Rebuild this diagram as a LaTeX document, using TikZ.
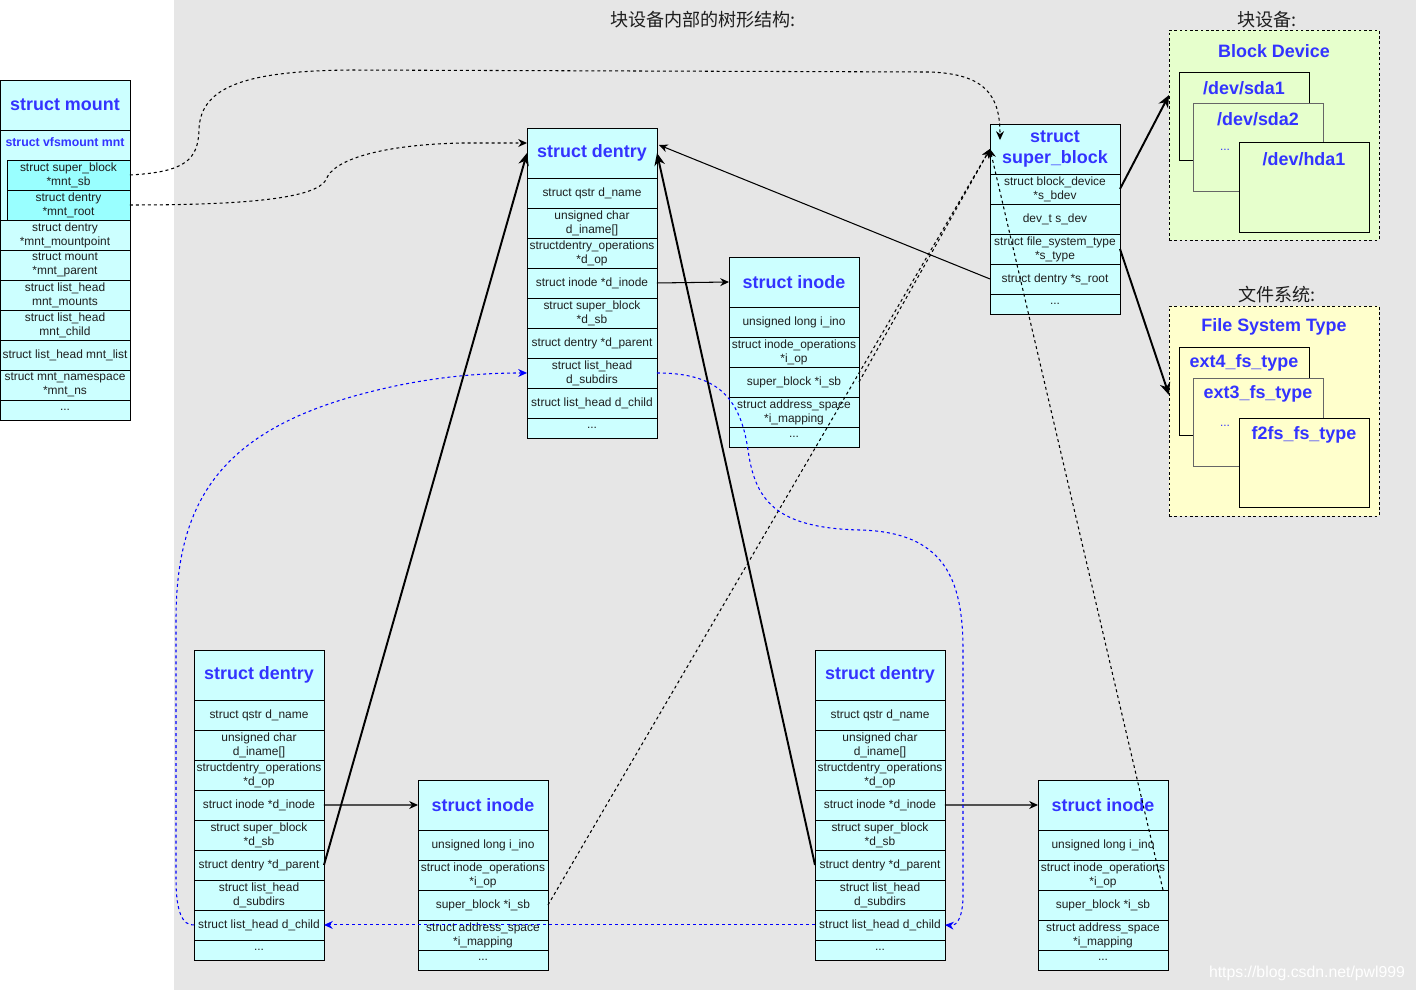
\documentclass[tikz,border=0pt]{standalone}
\usepackage{fontspec}
\setmainfont{Liberation Sans}
\newfontfamily\cjk{Noto Sans CJK SC}
\usetikzlibrary{positioning,calc,arrows.meta}
\definecolor{cellcyan}{RGB}{204,255,255}
\definecolor{cellaqua}{RGB}{153,255,255}
\definecolor{titleblue}{RGB}{51,51,255}
\definecolor{bggray}{RGB}{230,230,230}
\definecolor{blkgreen}{RGB}{230,255,204}
\definecolor{fsyellow}{RGB}{255,255,204}
\definecolor{textdark}{RGB}{30,30,30}
\definecolor{edgegray}{RGB}{102,102,102}

\tikzset{
  hdr/.style={draw, fill=cellcyan, outer sep=0pt, inner sep=1pt, minimum width=2.6cm, minimum height=1cm, align=center, text=titleblue, font=\fontsize{10.2}{12.5}\selectfont\bfseries},
  fld/.style={draw, fill=cellcyan, outer sep=0pt, inner sep=0pt, minimum width=2.6cm, minimum height=0.6cm, align=center, text=textdark, font=\fontsize{6.8}{8}\selectfont},
  fldend/.style={fld, minimum height=0.4cm},
  ptr/.style={-{Stealth[length=5pt,width=4.5pt]}, line width=0.6pt},
  ptrthick/.style={-{Stealth[length=7pt,width=6pt]}, line width=1.1pt},
  ptrdash/.style={ptr, dash pattern=on 1.7pt off 1.7pt},
  lnk/.style={ptrdash, blue},
  devbox/.style={draw, outer sep=0pt, anchor=north west, minimum width=2.6cm, minimum height=1.76cm},
  devlbl/.style={text=titleblue, font=\fontsize{10.2}{12}\selectfont\bfseries},
  grpbox/.style={draw, dash pattern=on 1.5pt off 1.5pt, outer sep=0pt, anchor=north west, minimum width=4.2cm, minimum height=4.2cm},
  cjktitle/.style={font=\cjk\fontsize{10.3}{12}\selectfont, text=textdark}
}

% one struct dentry, #1 name, #2 top left corner
\newcommand{\dentrybox}[2]{%
  \node[hdr, anchor=north west] (#1-hd) at #2 {struct dentry};
  \node[fld, below=0pt of #1-hd] (#1-name) {struct qstr d\_name};
  \node[fld, below=0pt of #1-name] (#1-iname) {unsigned char\\{}d\_iname[]};
  \node[fld, below=0pt of #1-iname] (#1-op) {structdentry\_operations\\{}*d\_op};
  \node[fld, below=0pt of #1-op] (#1-ino) {struct inode *d\_inode};
  \node[fld, below=0pt of #1-ino] (#1-sb) {struct super\_block\\{}*d\_sb};
  \node[fld, below=0pt of #1-sb] (#1-par) {struct dentry *d\_parent};
  \node[fld, below=0pt of #1-par] (#1-sub) {struct list\_head\\{}d\_subdirs};
  \node[fld, below=0pt of #1-sub] (#1-chd) {struct list\_head d\_child};
  \node[fldend, below=0pt of #1-chd] (#1-end) {...};
}

% one struct inode
\newcommand{\inodebox}[2]{%
  \node[hdr, anchor=north west] (#1-hd) at #2 {struct inode};
  \node[fld, below=0pt of #1-hd] (#1-num) {unsigned long i\_ino};
  \node[fld, below=0pt of #1-num] (#1-op) {struct inode\_operations\\{}*i\_op};
  \node[fld, below=0pt of #1-op] (#1-isb) {super\_block *i\_sb};
  \node[fld, below=0pt of #1-isb] (#1-map) {struct address\_space\\{}*i\_mapping};
  \node[fldend, below=0pt of #1-map] (#1-end) {...};
}

\begin{document}
\begin{tikzpicture}[x=0.02cm, y=-0.02cm]
  \useasboundingbox (0,0) rectangle (1416,992);

  % Background
  \fill[bggray] (174,0) rectangle (1416,990);
  \node[cjktitle] (tree-t) at (703,20) {块设备内部的树形结构:};

  % struct mount
  \node[hdr, anchor=north west] (mnt-hd) at (0,80) {struct mount};
  \node[fld, minimum height=1.8cm, below=0pt of mnt-hd] (mnt-vfs) {};
  \node[below=3pt of mnt-vfs.north, inner sep=1pt, text=titleblue, font=\fontsize{7}{8}\selectfont\bfseries] (mnt-vfs-t) {struct vfsmount mnt};
  \node[fld, fill=cellaqua, minimum width=2.46cm, anchor=north east] (mnt-sb) at ($(mnt-vfs.north east)+(0,30)$) {struct super\_block\\{}*mnt\_sb};
  \node[fld, fill=cellaqua, minimum width=2.46cm, below=0pt of mnt-sb] (mnt-root) {struct dentry\\{}*mnt\_root};
  \node[fld, below=0pt of mnt-vfs] (mnt-mp) {struct dentry\\{}*mnt\_mountpoint};
  \node[fld, below=0pt of mnt-mp] (mnt-par) {struct mount\\{}*mnt\_parent};
  \node[fld, below=0pt of mnt-par] (mnt-mts) {struct list\_head\\{}mnt\_mounts};
  \node[fld, below=0pt of mnt-mts] (mnt-chd) {struct list\_head\\{}mnt\_child};
  \node[fld, below=0pt of mnt-chd] (mnt-lst) {struct list\_head mnt\_list};
  \node[fld, below=0pt of mnt-lst] (mnt-ns) {struct mnt\_namespace\\{}*mnt\_ns};
  \node[fldend, below=0pt of mnt-ns] (mnt-end) {...};

  % dentries and inodes
  \dentrybox{td}{(527,128)}
  \dentrybox{bl}{(194,650)}
  \dentrybox{br}{(815,650)}
  \inodebox{ti}{(729,257)}
  \inodebox{bi}{(418,780)}
  \inodebox{ri}{(1038,780)}

  % struct super_block
  \node[hdr, anchor=north west] (sb-hd) at (990,124) {struct\\super\_block};
  \node[fld, below=0pt of sb-hd] (sb-bdev) {struct block\_device\\{}*s\_bdev};
  \node[fld, below=0pt of sb-bdev] (sb-dev) {dev\_t s\_dev};
  \node[fld, below=0pt of sb-dev] (sb-type) {struct file\_system\_type\\{}*s\_type};
  \node[fld, below=0pt of sb-type] (sb-root) {struct dentry *s\_root};
  \node[fldend, below=0pt of sb-root] (sb-end) {...};

  % Block device
  \node[cjktitle] (blk-cap) at (1267,20) {块设备:};
  \node[grpbox, fill=blkgreen] (blk) at (1169,30) {};
  \node[devlbl] (blk-t) at ($(blk.north)+(0,21)$) {Block Device};
  \node[devbox, fill=blkgreen] (sda1) at (1179,72) {};
  \node[devlbl] (sda1-t) at ($(sda1.north)+(0,16)$) {/dev/sda1};
  \node[devbox, fill=blkgreen, draw=edgegray] (sda2) at (1193,103) {};
  \node[devlbl] (sda2-t) at ($(sda2.north)+(0,16)$) {/dev/sda2};
  \node[text=titleblue, font=\fontsize{6.8}{8}\selectfont] (blk-dots) at (1225,150) {...};
  \node[devbox, fill=blkgreen, minimum height=1.8cm] (hda1) at (1239,142) {};
  \node[devlbl] (hda1-t) at ($(hda1.north)+(0,17)$) {/dev/hda1};

  % File system type
  \node[cjktitle] (fst-cap) at (1277,295) {文件系统:};
  \node[grpbox, fill=fsyellow] (fst) at (1169,306) {};
  \node[devlbl] (fst-t) at ($(fst.north)+(0,21)$) {File System Type};
  \node[devbox, fill=fsyellow] (ext4) at (1179,347) {};
  \node[devlbl] (ext4-t) at ($(ext4.north)+(0,16)$) {ext4\_fs\_type};
  \node[devbox, fill=fsyellow, draw=edgegray] (ext3) at (1193,378) {};
  \node[devlbl] (ext3-t) at ($(ext3.north)+(0,16)$) {ext3\_fs\_type};
  \node[text=titleblue, font=\fontsize{6.8}{8}\selectfont] (fst-dots) at (1225,426) {...};
  \node[devbox, fill=fsyellow, minimum height=1.78cm] (f2fs) at (1239,418) {};
  \node[devlbl] (f2fs-t) at ($(f2fs.north)+(0,17)$) {f2fs\_fs\_type};

  % mount pointers
  \coordinate (sb-in) at ($(sb-hd.north west)+(10,16)$);
  \draw[ptrdash] (mnt-sb.east) .. controls (185,172) and (198,160) .. (199,130) .. controls (200,85) and (250,71) .. (350,70) -- (930,72) .. controls (985,74) and (1000,95) .. (sb-in);
  \draw[ptrdash] (mnt-root.east) .. controls (250,205) and (315,198) .. (326,180) .. controls (332,160) and (380,145) .. (460,143) -- ($(td-hd.west)+(0,-10)$);

  % parent and inode pointers
  \draw[ptrthick] (bl-par.east) -- (td-hd.west);
  \draw[ptrthick] (br-par.west) -- (td-hd.east);
  \draw[ptr] (td-ino.east) -- (ti-hd.west);
  \draw[ptr] (bl-ino.east) -- (bi-hd.west);
  \draw[ptr] (br-ino.east) -- (ri-hd.west);
  \draw[ptr] (sb-root.west) -- ($(td-hd.east)+(2,-8)$);
  \draw[ptrthick] (sb-bdev.east) -- ($(blk.north west)+(0,65)$);
  \draw[ptrthick] (sb-type.east) -- ($(fst.north west)+(0,89)$);

  % i_sb pointers
  \draw[ptrdash] (bi-isb.east) -- (sb-hd.west);
  \draw[ptrdash] (ti-isb.east) -- (sb-hd.west);
  \draw[ptrdash] ($(ri-isb.north east)+(-5,0)$) -- (sb-hd.west);

  % list heads
  \draw[lnk] (td-sub.east) .. controls (715,373) and (740,395) .. (748,450) .. controls (755,500) and (775,528) .. (860,530) .. controls (945,532) and (963,580) .. (963,650) -- (963,895) .. controls (963,915) and (958,926) .. (br-chd.east);
  \draw[lnk] (bl-chd.west) .. controls (182,926) and (176,910) .. (176,880) -- (176,620) .. controls (176,490) and (230,420) .. (400,385) .. controls (450,375) and (490,373) .. (td-sub.west);
  \draw[lnk] (br-chd.west) -- (bl-chd.east);

  \node[text=white, font=\fontsize{9}{10}\selectfont] (wm) at (1307,973) {https://blog.csdn.net/pwl999};
\end{tikzpicture}
\end{document}
